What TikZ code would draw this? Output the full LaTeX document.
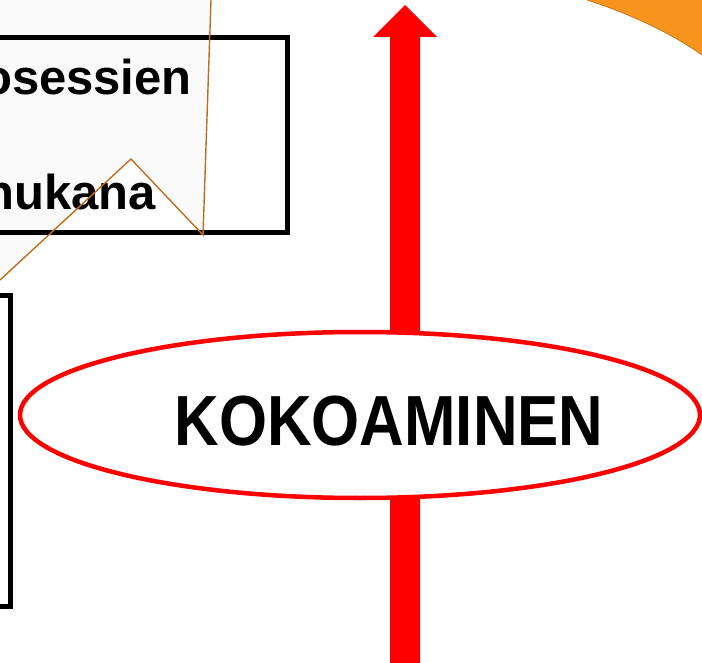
\documentclass[tikz,border=0pt]{standalone}
\usepackage{fontspec}
\usepackage{graphicx}
\setmainfont{Liberation Sans}
\usetikzlibrary{positioning,shapes.geometric}
\definecolor{swoosh}{RGB}{247,148,30}
\definecolor{guidebrown}{RGB}{190,110,30}
\definecolor{paleback}{RGB}{250,250,250}

\begin{document}
\begin{tikzpicture}[%
    x=1pt,
    y=-1pt,
    boxline/.style={%
      draw=black,
      line width=5pt
    },
    boxtext/.style={%
      font=\fontsize{49}{58}\selectfont\bfseries,
      inner sep=0pt,
      anchor=base east
    },
    kokoring/.style={%
      ellipse,
      draw=red,
      line width=4.5pt,
      fill=white,
      minimum width=680pt,
      minimum height=166pt,
      inner sep=0pt
    },
    kokotext/.style={%
      font=\fontsize{71}{86}\selectfont\bfseries,
      inner sep=0pt,
      anchor=base
    },
    guide/.style={draw=guidebrown, line width=1.4pt}
  ]
    \useasboundingbox (0,0) rectangle (702,663);

    % background pieces
    \fill[swoosh] (587,0) .. controls (625,12) and (670,32) .. (702,55) -- (702,0) -- cycle;
    \draw[swoosh!80!black, line width=0.8pt] (587,0) .. controls (625,12) and (670,32) .. (702,55);
    \fill[paleback] (0,0) -- (211,0) -- (203,235) -- (131,159) -- (0,280) -- cycle;

    % the upward arrow
    \coordinate (arrowfoot) at (405,663);
    \coordinate (arrowtip)  at (405,5);
    \fill[red] (390,663) -- (390,37) -- (373,37) -- (arrowtip) -- (437,37) -- (420,37) -- (420,663) -- cycle;

    \node[kokoring] (ring) at (360,415) {};
    \node[kokotext] (koko) at (389,445) {\scalebox{0.87}[1]{KOKOAMINEN}};

    % boxes cut off at the left edge
    \draw[boxline] (-10,38) rectangle (287,233);
    \draw[boxline] (-10,296) rectangle (10,606);
    \node[boxtext] (posessien) at (192,95)  {osessien};
    \node[boxtext] (mukana)    at (156,210) {nukana};

    \coordinate (gtop)  at (211,0);
    \coordinate (gfoot) at (203,235);
    \coordinate (gpeak) at (131,159);
    \coordinate (gleft) at (0,280);
    \draw[guide] (gtop) -- (gfoot) -- (gpeak) -- (gleft);
  \end{tikzpicture}
\end{document}
